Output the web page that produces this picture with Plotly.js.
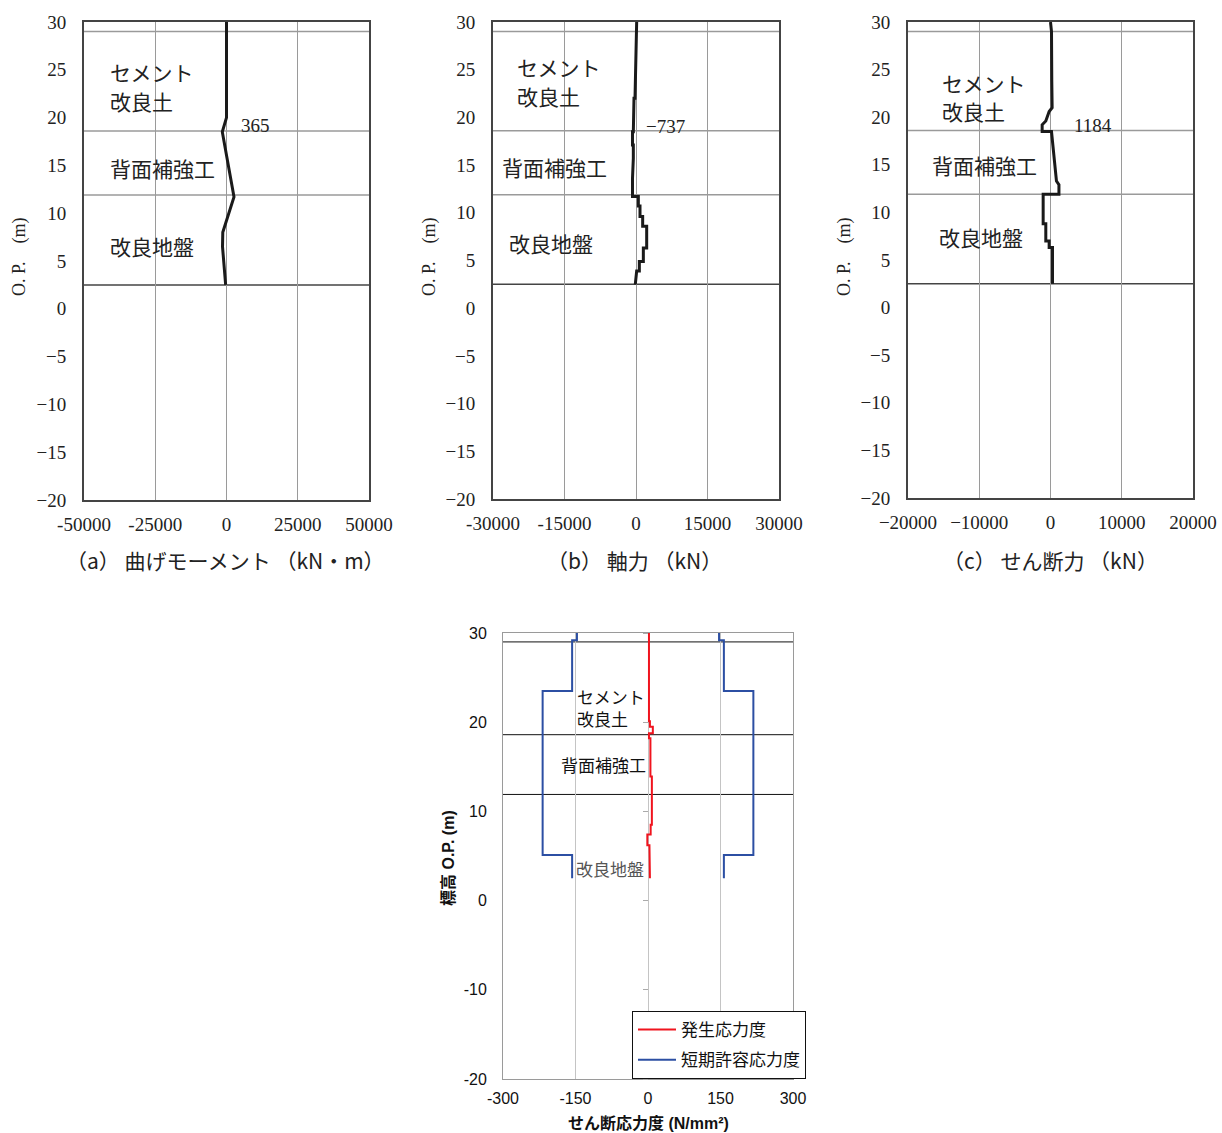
<!DOCTYPE html>
<html>
<head>
<meta charset="utf-8">
<script src="https://cdn.plot.ly/plotly-3.0.1.min.js"></script>
<style>html,body{margin:0;padding:0;background:#fff;}#chart{width:1222px;height:1133px;}</style>
</head>
<body>
<div id="chart"></div>
<script>
// ---------------- data ----------------
// (a) bending moment (kN·m) vs elevation O.P. (m)
const momentDepth = [30, 24, 20.0, 18.5, 11.7, 8.0, 6.5, 2.5];
const momentValue = [0, 100, 0, -1470, 2630, -1300, -1400, -300];
// (b) axial force (kN)
const axialDepth = [30, 25, 22, 22, 19.6, 19.6, 18.5, 18.5, 17.1, 17.1, 15.7, 13.6, 11.7, 11.7, 10.7, 10.7, 9.6, 9.6, 8.6, 8.6, 6.3, 6.3, 4.9, 4.9, 3.9, 3.9, 2.5];
const axialValue = [140, 0, -210, -420, -420, -560, -560, -737, -737, -560, -560, -737, -737, 490, 490, 840, 840, 1400, 1400, 2240, 2240, 1540, 1540, 700, 700, 140, -150];
// (c) shear force (kN)
const shearDepth = [30, 29, 23.8, 21.0, 20.6, 19.6, 19.2, 18.5, 18.5, 13.3, 12.9, 11.9, 11.9, 8.8, 8.8, 7.0, 7.0, 6.3, 6.3, 2.5];
const shearValue = [0, 140, 180, 230, -190, -660, -1170, -1170, 140, 835, 1184, 1184, -1030, -1030, -660, -660, -190, -190, 280, 280];
// (d) shear stress (N/mm2)
const stressDepth = [30, 20.1, 20.1, 19.5, 19.5, 18.75, 18.75, 18.2, 18.2, 13.9, 13.9, 8.5, 8.5, 7.4, 7.4, 6.2, 6.2, 5.1, 5.1, 2.5];
const stressValue = [2, 2, 4, 4, 10, 10, 2, 2, 5, 5, 8, 8, 5.5, 5.5, -1.4, -1.4, 3, 3, 4, 4];
const allowDepth = [30, 29.2, 29.2, 23.5, 23.5, 5.1, 5.1, 2.5];
const allowLeft  = [-147, -147, -157, -157, -218, -218, -157, -157];
const allowRight = [147, 147, 157, 157, 218, 218, 157, 157];
// layer boundaries (O.P. m)
const layerBoundaries = [29, 18.6, 11.9];
const baseLevel = 2.5;
// annotated peak values
const peakLabels = ['365', '−737', '1184'];
// tick labels
const yTicksTop = [30, 25, 20, 15, 10, 5, 0, -5, -10, -15, -20];
const yLabelsTop = ['30', '25', '20', '15', '10', '5', '0', '−5', '−10', '−15', '−20'];
const xTicksA = [-50000, -25000, 0, 25000, 50000];
const xLabelsA = ['-50000', '-25000', '0', '25000', '50000'];
const xTicksB = [-30000, -15000, 0, 15000, 30000];
const xLabelsB = ['-30000', '-15000', '0', '15000', '30000'];
const xTicksC = [-20000, -10000, 0, 10000, 20000];
const xLabelsC = ['−20000', '−10000', '0', '10000', '20000'];
const yTicksD = [30, 20, 10, 0, -10, -20];
const yLabelsD = ['30', '20', '10', '0', '-10', '-20'];
const xTicksD = [-300, -150, 0, 150, 300];
const xLabelsD = ['-300', '-150', '0', '150', '300'];
const layerNames = ['セメント', '改良土', '背面補強工', '改良地盤'];
const seriesNames = ['発生応力度', '短期許容応力度'];

// ---------------- layout helpers ----------------
const W = 1222, H = 1133;
const px = v => v / W;
const py = v => 1 - v / H;
const serif = '"Liberation Serif", "DejaVu Serif", "Noto Sans CJK JP", serif';
const sans = 'Arial, "Liberation Sans", "Noto Sans CJK JP", sans-serif';
const jpSerif = '"Noto Sans CJK JP", "Liberation Serif", serif';

function topX(dom, ticks, labels, anchor) {
  return {
    domain: [px(dom[0]), px(dom[1])], range: [ticks[0], ticks[ticks.length - 1]],
    tickmode: 'array', tickvals: ticks, ticktext: labels,
    showgrid: true, gridcolor: '#9a9a9a', gridwidth: 1, zeroline: false,
    showline: true, linecolor: '#444', linewidth: 2, mirror: true,
    ticks: 'outside', ticklen: 6, tickcolor: 'rgba(0,0,0,0)',
    tickfont: {family: serif, size: 19, color: '#222'}, anchor: anchor, fixedrange: true
  };
}
function topY(dom, anchor) {
  return {
    domain: [py(dom[1]), py(dom[0])], range: [-20, 30],
    tickmode: 'array', tickvals: yTicksTop, ticktext: yLabelsTop,
    showgrid: false, zeroline: false,
    showline: true, linecolor: '#444', linewidth: 2, mirror: true,
    ticks: 'outside', ticklen: 12, tickcolor: 'rgba(0,0,0,0)',
    tickfont: {family: serif, size: 19, color: '#222'}, anchor: anchor, fixedrange: true
  };
}

const blackLine = {color: '#1a1a1a', width: 3};
const traces = [
  {x: momentValue, y: momentDepth, xaxis: 'x', yaxis: 'y', mode: 'lines', line: blackLine, showlegend: false, hoverinfo: 'x+y'},
  {x: axialValue, y: axialDepth, xaxis: 'x2', yaxis: 'y2', mode: 'lines', line: blackLine, showlegend: false, hoverinfo: 'x+y'},
  {x: shearValue, y: shearDepth, xaxis: 'x3', yaxis: 'y3', mode: 'lines', line: blackLine, showlegend: false, hoverinfo: 'x+y'},
  {x: stressValue, y: stressDepth, xaxis: 'x4', yaxis: 'y4', mode: 'lines', line: {color: '#f0141e', width: 2},
   name: seriesNames[0], legendgroup: 'g1'},
  {x: allowLeft.concat([null], allowRight), y: allowDepth.concat([null], allowDepth), xaxis: 'x4', yaxis: 'y4', mode: 'lines',
   line: {color: '#2c4fa3', width: 2}, name: seriesNames[1], legendgroup: 'g2', connectgaps: false},
  {x: [0], y: [0], xaxis: 'x4', yaxis: 'y5', mode: 'markers', marker: {opacity: 0}, showlegend: false, hoverinfo: 'skip'}
];

const shapes = [];
[['x', 'y'], ['x2', 'y2'], ['x3', 'y3']].forEach(([xa, ya]) => {
  layerBoundaries.forEach(b => shapes.push({type: 'line', xref: xa + ' domain', yref: ya, x0: 0, x1: 1, y0: b, y1: b,
    line: {color: '#9a9a9a', width: 1.5}, layer: 'below'}));
  shapes.push({type: 'line', xref: xa + ' domain', yref: ya, x0: 0, x1: 1, y0: baseLevel, y1: baseLevel,
    line: {color: '#444', width: 1.5}, layer: 'below'});
});
layerBoundaries.forEach(b => shapes.push({type: 'line', xref: 'x4 domain', yref: 'y4', x0: 0, x1: 1, y0: b, y1: b,
  line: {color: '#111', width: 1}, layer: 'below'}));

const ann = [];
function txt(text, x, y, opts) {
  ann.push(Object.assign({text: text, xref: 'paper', yref: 'paper', x: px(x), y: py(y), showarrow: false,
    xanchor: 'left', yanchor: 'middle', font: {family: jpSerif, size: 21, color: '#222'}}, opts || {}));
}
// layer labels - top charts
const topLabelPos = [
  [[108, 72], [108, 101], [108, 168], [108, 246]],
  [[515, 67], [515, 96], [500, 167], [507, 243]],
  [[940, 83], [940, 111], [930, 165], [937, 237]]
];
topLabelPos.forEach(p => p.forEach((q, i) => txt(layerNames[i], q[0], q[1])));
// peak values
txt(peakLabels[0], 239, 125, {font: {family: serif, size: 19, color: '#222'}});
txt(peakLabels[1], 644, 126, {font: {family: serif, size: 19, color: '#222'}});
txt(peakLabels[2], 1072, 125, {font: {family: serif, size: 19, color: '#222'}});
// axis titles top
[20, 430, 845].forEach(x => txt('O. P.　(m)', x, 257, {xanchor: 'center', textangle: -90,
  font: {family: serif, size: 18, color: '#222'}}));
const capFont = {family: jpSerif, size: 21, color: '#222'};
txt('（a） 曲げモーメント （kN・m）', 225, 560, {xanchor: 'center', font: capFont});
txt('（b） 軸力 （kN）', 634, 560, {xanchor: 'center', font: capFont});
txt('（c） せん断力 （kN）', 1050, 560, {xanchor: 'center', font: capFont});
// bottom chart labels
const dFont = {family: sans, size: 17, color: '#111'};
txt(layerNames[0], 575, 698, {font: dFont});
txt(layerNames[1], 575, 720, {font: dFont});
txt(layerNames[2], 559, 766, {font: dFont});
txt(layerNames[3], 574, 870, {font: {family: sans, size: 17, color: '#555'}});
txt('<b>標高 O.P. (m)</b>', 448, 858, {xanchor: 'center', textangle: -90, font: {family: sans, size: 16, color: '#111'}});
txt('<b>せん断応力度 (N/mm²)</b>', 648, 1123, {xanchor: 'center', font: {family: sans, size: 16, color: '#111'}});

const dDom = [503, 793];
const layout = {
  width: W, height: H, margin: {l: 0, r: 0, t: 0, b: 0}, paper_bgcolor: '#fff', plot_bgcolor: '#fff',
  showlegend: true,
  xaxis: topX([84, 369], xTicksA, xLabelsA, 'y'),
  yaxis: topY([22, 500], 'x'),
  xaxis2: topX([493, 779], xTicksB, xLabelsB, 'y2'),
  yaxis2: topY([22, 499], 'x2'),
  xaxis3: topX([908, 1193], xTicksC, xLabelsC, 'y3'),
  yaxis3: topY([22, 498], 'x3'),
  xaxis4: {
    domain: [px(dDom[0]), px(dDom[1])], range: [-300, 300], tickmode: 'array', tickvals: xTicksD, ticktext: xLabelsD,
    showgrid: true, gridcolor: '#c4c4c4', gridwidth: 1, zeroline: false,
    showline: true, linecolor: '#9a9a9a', linewidth: 1, mirror: true,
    ticks: 'outside', ticklen: 5, tickcolor: 'rgba(0,0,0,0)',
    tickfont: {family: sans, size: 16, color: '#111'}, anchor: 'y4', fixedrange: true
  },
  yaxis4: {
    domain: [py(1079), py(633)], range: [-20, 30], tickmode: 'array', tickvals: yTicksD, ticktext: yLabelsD,
    showgrid: false, zeroline: false,
    showline: true, linecolor: '#9a9a9a', linewidth: 1, mirror: true,
    ticks: 'outside', ticklen: 12, tickcolor: 'rgba(0,0,0,0)',
    tickfont: {family: sans, size: 16, color: '#111'}, anchor: 'x4', fixedrange: true
  },
  yaxis5: {
    overlaying: 'y4', anchor: 'free', position: px((dDom[0] + dDom[1]) / 2), side: 'left',
    range: [-20, 30], tickmode: 'array', tickvals: yTicksD, showticklabels: false,
    ticks: 'outside', ticklen: 5, tickcolor: '#aaa', showline: false, showgrid: false, zeroline: false, fixedrange: true
  },
  legend: {
    x: px(632), y: py(1011), xanchor: 'left', yanchor: 'top', bgcolor: '#fff', bordercolor: '#111', borderwidth: 1,
    font: {family: sans, size: 17, color: '#111'}, traceorder: 'grouped', tracegroupgap: 5, itemwidth: 38
  },
  shapes: shapes, annotations: ann
};
Plotly.newPlot('chart', traces, layout, {displayModeBar: false, staticPlot: true});
</script>
</body>
</html>
